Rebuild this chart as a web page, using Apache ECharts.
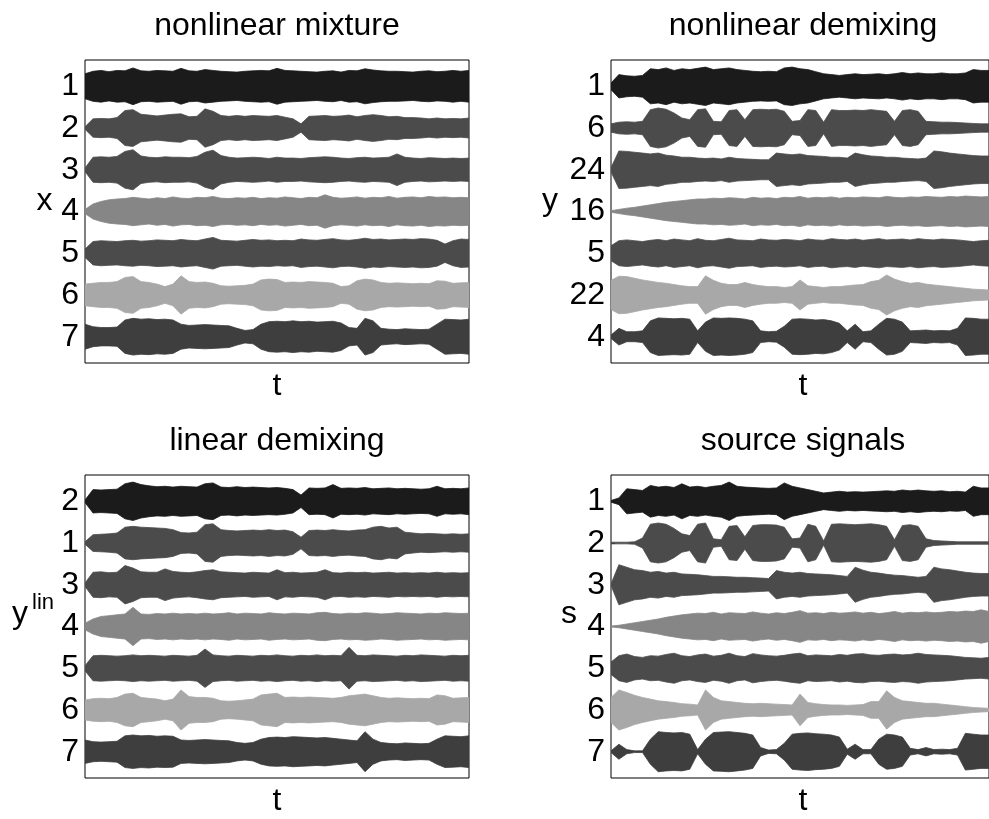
<!DOCTYPE html>
<html>
<head>
<meta charset="utf-8">
<script src="https://cdn.jsdelivr.net/npm/echarts@6/dist/echarts.min.js"></script>
<style>
html,body{margin:0;padding:0;background:#fff;}
#chart{width:989px;height:819px;}
</style>
</head>
<body>
<div id="chart"></div>
<script>
// ---- tick labels (row names) ----
const mixLabels = ['1','2','3','4','5','6','7'];
const demLabels = ['1','6','24','16','5','22','4'];
const linLabels = ['2','1','3','4','5','6','7'];
const srcLabels = ['1','2','3','4','5','6','7'];

const titles = ['nonlinear mixture','nonlinear demixing','linear demixing','source signals'];
const xNames = ['t','t','t','t'];

// ---- signal envelopes (half-amplitude, in row units), 49 samples along t ----
const mix1 = [0.30,0.36,0.38,0.35,0.38,0.37,0.44,0.37,0.36,0.38,0.37,0.36,0.43,0.37,0.36,0.40,0.38,0.36,0.35,0.34,0.36,0.37,0.38,0.37,0.43,0.38,0.37,0.36,0.35,0.34,0.36,0.37,0.34,0.38,0.37,0.42,0.39,0.37,0.36,0.36,0.35,0.34,0.36,0.37,0.35,0.36,0.38,0.36,0.38];
const mix2 = [0.03,0.22,0.23,0.22,0.25,0.42,0.44,0.33,0.31,0.29,0.31,0.33,0.34,0.27,0.28,0.46,0.40,0.30,0.28,0.30,0.28,0.30,0.29,0.28,0.30,0.26,0.22,0.10,0.28,0.29,0.30,0.28,0.29,0.31,0.27,0.30,0.32,0.30,0.27,0.28,0.25,0.25,0.24,0.22,0.24,0.22,0.23,0.22,0.24];
const mix3 = [0.04,0.30,0.31,0.30,0.32,0.44,0.48,0.33,0.30,0.29,0.31,0.30,0.30,0.29,0.32,0.42,0.47,0.34,0.30,0.28,0.29,0.30,0.29,0.27,0.30,0.28,0.28,0.27,0.29,0.30,0.31,0.30,0.28,0.27,0.29,0.30,0.28,0.29,0.30,0.38,0.30,0.28,0.27,0.29,0.28,0.27,0.28,0.27,0.28];
const mix4 = [0.05,0.18,0.24,0.28,0.30,0.31,0.34,0.32,0.30,0.33,0.31,0.35,0.32,0.31,0.34,0.33,0.36,0.32,0.31,0.33,0.32,0.34,0.31,0.33,0.32,0.35,0.33,0.31,0.34,0.33,0.40,0.34,0.32,0.33,0.35,0.32,0.34,0.33,0.36,0.32,0.34,0.35,0.33,0.36,0.34,0.35,0.33,0.34,0.33];
const mix5 = [0.10,0.28,0.30,0.29,0.28,0.30,0.31,0.29,0.30,0.32,0.31,0.30,0.33,0.31,0.30,0.34,0.38,0.31,0.30,0.29,0.31,0.33,0.31,0.32,0.30,0.31,0.30,0.34,0.32,0.31,0.33,0.35,0.32,0.31,0.33,0.36,0.33,0.34,0.32,0.33,0.34,0.33,0.35,0.34,0.31,0.22,0.30,0.34,0.33];
const mix6 = [0.26,0.28,0.30,0.30,0.32,0.42,0.44,0.32,0.30,0.26,0.20,0.26,0.46,0.32,0.30,0.31,0.28,0.22,0.21,0.22,0.23,0.26,0.36,0.38,0.37,0.30,0.31,0.30,0.32,0.31,0.30,0.28,0.20,0.22,0.34,0.38,0.36,0.30,0.28,0.29,0.28,0.27,0.28,0.27,0.34,0.33,0.28,0.29,0.30];
const mix7 = [0.30,0.24,0.22,0.22,0.23,0.40,0.44,0.42,0.43,0.41,0.42,0.40,0.30,0.27,0.28,0.29,0.28,0.27,0.26,0.20,0.15,0.17,0.30,0.36,0.37,0.36,0.38,0.36,0.37,0.35,0.36,0.37,0.33,0.22,0.20,0.44,0.38,0.20,0.18,0.17,0.19,0.18,0.17,0.18,0.30,0.42,0.41,0.40,0.42];

const dem1 = [0.08,0.28,0.25,0.24,0.26,0.42,0.40,0.44,0.38,0.42,0.40,0.43,0.46,0.40,0.42,0.44,0.40,0.38,0.36,0.35,0.36,0.35,0.44,0.46,0.42,0.40,0.35,0.30,0.28,0.26,0.28,0.30,0.28,0.29,0.30,0.28,0.30,0.33,0.30,0.32,0.30,0.30,0.32,0.30,0.30,0.32,0.40,0.38,0.38];
const dem2 = [0.10,0.14,0.15,0.14,0.16,0.44,0.48,0.45,0.36,0.24,0.20,0.44,0.46,0.16,0.15,0.42,0.44,0.20,0.44,0.45,0.44,0.45,0.40,0.16,0.18,0.44,0.42,0.14,0.44,0.42,0.42,0.43,0.42,0.44,0.42,0.40,0.16,0.42,0.44,0.40,0.16,0.15,0.14,0.14,0.13,0.12,0.11,0.10,0.10];
const dem3 = [0.05,0.45,0.44,0.42,0.40,0.38,0.40,0.35,0.33,0.30,0.30,0.28,0.27,0.28,0.26,0.30,0.27,0.26,0.25,0.24,0.24,0.40,0.38,0.36,0.38,0.34,0.33,0.32,0.30,0.30,0.28,0.40,0.36,0.33,0.32,0.30,0.30,0.28,0.27,0.26,0.28,0.45,0.43,0.40,0.38,0.36,0.34,0.33,0.33];
const dem4 = [0.02,0.05,0.08,0.10,0.13,0.16,0.19,0.22,0.24,0.26,0.28,0.30,0.30,0.32,0.31,0.33,0.32,0.30,0.34,0.32,0.33,0.31,0.34,0.33,0.36,0.32,0.34,0.33,0.35,0.32,0.34,0.33,0.35,0.34,0.33,0.36,0.34,0.33,0.35,0.34,0.36,0.35,0.34,0.36,0.35,0.37,0.36,0.35,0.36];
const dem5 = [0.18,0.30,0.32,0.30,0.28,0.31,0.33,0.30,0.34,0.32,0.30,0.35,0.31,0.30,0.33,0.36,0.32,0.31,0.30,0.34,0.32,0.31,0.33,0.32,0.30,0.34,0.32,0.31,0.35,0.33,0.32,0.34,0.31,0.33,0.35,0.32,0.33,0.34,0.32,0.35,0.33,0.32,0.34,0.33,0.32,0.30,0.28,0.30,0.31];
const dem6 = [0.35,0.45,0.44,0.40,0.36,0.33,0.30,0.28,0.25,0.22,0.20,0.20,0.46,0.35,0.28,0.25,0.25,0.30,0.25,0.22,0.20,0.20,0.18,0.20,0.36,0.22,0.20,0.18,0.20,0.20,0.22,0.24,0.25,0.32,0.35,0.48,0.38,0.32,0.28,0.30,0.26,0.24,0.22,0.20,0.18,0.16,0.14,0.13,0.12];
const dem7 = [0.04,0.20,0.12,0.12,0.14,0.38,0.45,0.44,0.43,0.44,0.42,0.14,0.35,0.45,0.44,0.45,0.44,0.42,0.38,0.14,0.12,0.13,0.25,0.42,0.43,0.42,0.40,0.41,0.38,0.32,0.14,0.30,0.12,0.14,0.30,0.44,0.42,0.35,0.14,0.15,0.16,0.14,0.15,0.14,0.20,0.45,0.44,0.42,0.42];

const lin1 = [0.03,0.28,0.27,0.28,0.29,0.42,0.46,0.40,0.37,0.35,0.36,0.34,0.36,0.35,0.34,0.42,0.44,0.34,0.33,0.35,0.33,0.34,0.33,0.32,0.33,0.31,0.28,0.15,0.32,0.31,0.32,0.40,0.31,0.32,0.31,0.33,0.30,0.31,0.32,0.30,0.31,0.30,0.29,0.30,0.36,0.30,0.31,0.30,0.32];
const lin2 = [0.03,0.20,0.21,0.22,0.24,0.38,0.40,0.38,0.37,0.36,0.35,0.32,0.25,0.24,0.26,0.44,0.46,0.32,0.30,0.29,0.30,0.31,0.30,0.32,0.30,0.31,0.27,0.14,0.30,0.31,0.30,0.32,0.30,0.29,0.31,0.32,0.38,0.40,0.36,0.38,0.26,0.24,0.22,0.23,0.22,0.21,0.22,0.21,0.22];
const lin3 = [0.04,0.30,0.31,0.29,0.30,0.46,0.40,0.31,0.30,0.30,0.38,0.32,0.30,0.29,0.31,0.34,0.36,0.31,0.30,0.29,0.28,0.30,0.29,0.28,0.36,0.29,0.30,0.28,0.29,0.30,0.36,0.29,0.28,0.30,0.29,0.30,0.28,0.29,0.30,0.28,0.29,0.28,0.29,0.28,0.30,0.28,0.29,0.28,0.29];
const lin4 = [0.08,0.18,0.24,0.26,0.28,0.30,0.46,0.30,0.29,0.31,0.30,0.32,0.30,0.31,0.30,0.32,0.30,0.31,0.33,0.30,0.32,0.31,0.30,0.33,0.31,0.30,0.32,0.31,0.30,0.33,0.34,0.31,0.30,0.32,0.31,0.33,0.32,0.30,0.31,0.33,0.32,0.31,0.30,0.32,0.31,0.33,0.32,0.31,0.32];
const lin5 = [0.06,0.30,0.31,0.30,0.29,0.30,0.32,0.30,0.31,0.30,0.29,0.31,0.30,0.29,0.31,0.46,0.32,0.30,0.29,0.31,0.30,0.29,0.31,0.30,0.32,0.30,0.29,0.31,0.30,0.32,0.30,0.31,0.30,0.50,0.31,0.30,0.32,0.31,0.30,0.29,0.31,0.30,0.32,0.31,0.30,0.29,0.31,0.30,0.31];
const lin6 = [0.24,0.27,0.28,0.27,0.30,0.38,0.40,0.30,0.28,0.26,0.22,0.26,0.48,0.32,0.30,0.30,0.28,0.22,0.21,0.22,0.24,0.26,0.36,0.38,0.40,0.30,0.31,0.30,0.31,0.30,0.29,0.28,0.30,0.34,0.36,0.38,0.34,0.30,0.28,0.29,0.28,0.27,0.28,0.27,0.36,0.34,0.28,0.29,0.30];
const lin7 = [0.28,0.24,0.23,0.24,0.25,0.38,0.40,0.38,0.39,0.37,0.38,0.37,0.28,0.27,0.28,0.29,0.28,0.27,0.26,0.22,0.20,0.22,0.30,0.34,0.35,0.34,0.36,0.35,0.34,0.33,0.34,0.32,0.30,0.28,0.26,0.48,0.30,0.22,0.20,0.19,0.21,0.20,0.19,0.20,0.30,0.38,0.37,0.36,0.38];

const src1 = [0.02,0.08,0.30,0.28,0.26,0.38,0.34,0.36,0.33,0.42,0.34,0.36,0.33,0.36,0.38,0.46,0.36,0.34,0.33,0.32,0.31,0.32,0.44,0.36,0.32,0.28,0.24,0.20,0.22,0.24,0.22,0.23,0.22,0.23,0.24,0.25,0.24,0.27,0.25,0.27,0.25,0.24,0.25,0.23,0.24,0.22,0.36,0.32,0.32];
const src2 = [0.02,0.02,0.02,0.03,0.12,0.45,0.48,0.45,0.35,0.22,0.18,0.45,0.48,0.10,0.08,0.40,0.42,0.15,0.42,0.44,0.44,0.43,0.38,0.10,0.12,0.45,0.40,0.05,0.45,0.46,0.45,0.44,0.45,0.46,0.44,0.40,0.08,0.42,0.44,0.40,0.10,0.06,0.05,0.04,0.03,0.03,0.03,0.03,0.03];
const src3 = [0.02,0.48,0.42,0.36,0.34,0.30,0.32,0.28,0.30,0.26,0.25,0.24,0.22,0.20,0.20,0.19,0.18,0.18,0.17,0.16,0.15,0.34,0.30,0.28,0.30,0.27,0.26,0.25,0.24,0.22,0.20,0.42,0.35,0.30,0.28,0.25,0.23,0.22,0.20,0.18,0.20,0.42,0.38,0.36,0.33,0.30,0.28,0.27,0.27];
const src4 = [0.01,0.03,0.06,0.09,0.12,0.15,0.18,0.22,0.25,0.28,0.30,0.32,0.31,0.34,0.30,0.33,0.32,0.31,0.35,0.32,0.30,0.33,0.31,0.34,0.38,0.32,0.33,0.31,0.34,0.32,0.33,0.35,0.32,0.34,0.31,0.33,0.36,0.32,0.34,0.33,0.35,0.33,0.34,0.36,0.35,0.37,0.36,0.40,0.36];
const src5 = [0.15,0.30,0.34,0.28,0.26,0.30,0.29,0.33,0.36,0.30,0.28,0.32,0.34,0.29,0.31,0.36,0.30,0.28,0.35,0.32,0.30,0.29,0.31,0.34,0.36,0.30,0.32,0.31,0.30,0.33,0.31,0.34,0.35,0.32,0.31,0.33,0.34,0.32,0.33,0.36,0.33,0.32,0.31,0.30,0.28,0.26,0.25,0.24,0.26];
const src6 = [0.30,0.48,0.42,0.35,0.30,0.26,0.22,0.20,0.18,0.15,0.14,0.12,0.48,0.30,0.22,0.20,0.18,0.16,0.15,0.16,0.15,0.14,0.13,0.12,0.38,0.18,0.15,0.13,0.12,0.12,0.11,0.12,0.13,0.20,0.20,0.46,0.30,0.22,0.20,0.18,0.16,0.16,0.14,0.12,0.10,0.08,0.06,0.05,0.04];
const src7 = [0.02,0.18,0.05,0.02,0.02,0.30,0.48,0.46,0.45,0.46,0.42,0.05,0.30,0.46,0.47,0.48,0.46,0.44,0.40,0.10,0.04,0.05,0.20,0.42,0.44,0.45,0.43,0.42,0.40,0.35,0.06,0.18,0.05,0.05,0.30,0.42,0.40,0.35,0.08,0.05,0.10,0.05,0.06,0.05,0.08,0.44,0.42,0.40,0.40];

const rowColors = ['#1b1b1b','#4b4b4b','#4b4b4b','#868686','#4b4b4b','#a8a8a8','#3e3e3e'];

const panels = [
  {labels: mixLabels, sig: [mix1,mix2,mix3,mix4,mix5,mix6,mix7]},
  {labels: demLabels, sig: [dem1,dem2,dem3,dem4,dem5,dem6,dem7]},
  {labels: linLabels, sig: [lin1,lin2,lin3,lin4,lin5,lin6,lin7]},
  {labels: srcLabels, sig: [src1,src2,src3,src4,src5,src6,src7]}
];

// ---- layout ----
const layout = [
  {l: 85, t: 60, cx: 277},
  {l: 611, t: 60, cx: 803},
  {l: 85, t: 475, cx: 277},
  {l: 611, t: 475, cx: 803}
];
const GW = 384, GH = 303;
const FONT = '"Liberation Sans", Arial, Helvetica, sans-serif';
const rowsIdx = [1,2,3,4,5,6,7];

const chart = echarts.init(document.getElementById('chart'), null, {renderer: 'canvas'});

function makeRender(amp, row, color) {
  return function (params, api) {
    const pts = [];
    for (let i = 0; i < amp.length; i++) pts.push(api.coord([i, row - amp[i]]));
    for (let i = amp.length - 1; i >= 0; i--) pts.push(api.coord([i, row + amp[i]]));
    return {
      type: 'polygon',
      shape: {points: pts},
      style: {fill: color, stroke: color, lineWidth: 0.8}
    };
  };
}

const grids = [], xAxes = [], yAxes = [], series = [], graphics = [];
panels.forEach((p, k) => {
  const g = layout[k];
  grids.push({left: g.l, top: g.t, width: GW, height: GH, show: true,
    borderColor: '#000', borderWidth: 1, backgroundColor: 'transparent'});
  xAxes.push({gridIndex: k, type: 'value', min: 0, max: 48, show: false});
  yAxes.push({
    gridIndex: k, type: 'value', inverse: true, min: 0.37, max: 7.63,
    axisLine: {show: false},
    splitLine: {show: false},
    axisTick: {show: true, inside: true, length: 4, customValues: rowsIdx, lineStyle: {color: '#000', width: 1}},
    axisLabel: {
      customValues: rowsIdx,
      formatter: (v) => p.labels[Math.round(v) - 1] || '',
      fontSize: 32, fontFamily: FONT, color: '#000', margin: 6
    }
  });
  p.sig.forEach((amp, r) => {
    series.push({
      type: 'custom', xAxisIndex: k, yAxisIndex: k, silent: true, clip: true,
      data: [[0, r + 1]],
      renderItem: makeRender(amp, r + 1, rowColors[r]),
      z: 2
    });
  });
  graphics.push({type: 'text', x: g.cx, y: g.t - 34,
    style: {text: titles[k], font: '32px ' + FONT, fill: '#000', align: 'center', verticalAlign: 'middle', textAlign: 'center', textVerticalAlign: 'middle'}});
  graphics.push({type: 'text', x: g.cx, y: g.t + GH + 23,
    style: {text: xNames[k], font: '32px ' + FONT, fill: '#000', align: 'center', verticalAlign: 'middle', textAlign: 'center', textVerticalAlign: 'middle'}});
});

function txt(s, x, y, size, align) {
  return {type: 'text', x: x, y: y,
    style: {text: s, font: size + 'px ' + FONT, fill: '#000', align: align, verticalAlign: 'middle', textAlign: align, textVerticalAlign: 'middle'}};
}
graphics.push(txt('x', 44.5, 201, 32, 'center'));
graphics.push(txt('y', 550, 201, 32, 'center'));
graphics.push(txt('y', 20, 614, 32, 'center'));
graphics.push(txt('lin', 32, 603, 22, 'left'));
graphics.push(txt('s', 569, 614, 32, 'center'));

chart.setOption({
  animation: false,
  backgroundColor: '#fff',
  grid: grids,
  xAxis: xAxes,
  yAxis: yAxes,
  series: series,
  graphic: graphics
});
</script>
</body>
</html>
